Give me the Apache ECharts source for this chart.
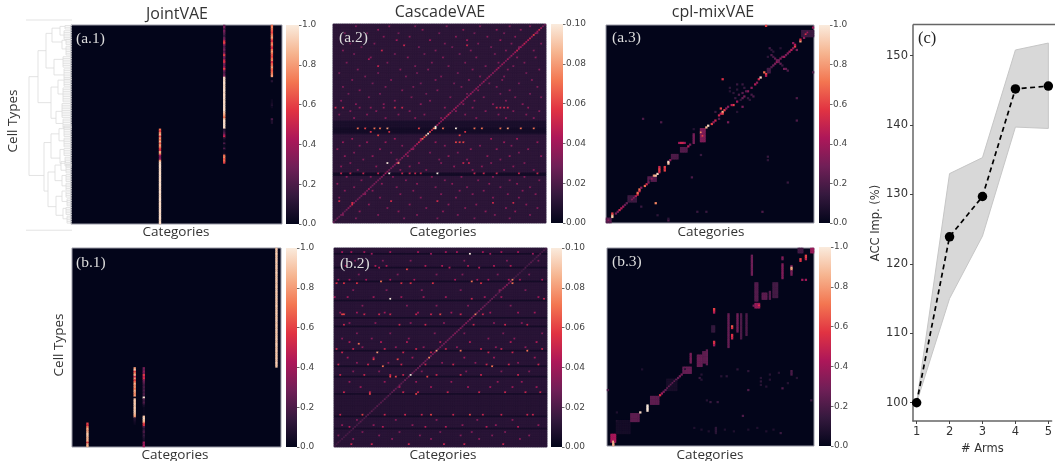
<!DOCTYPE html>
<html><head><meta charset="utf-8">
<style>html,body{margin:0;padding:0;background:#fff}#c{width:1055px;height:461px}</style>
<script src="https://cdn.jsdelivr.net/npm/echarts@6/dist/echarts.min.js"></script></head>
<body><div id="c"></div>
<script>
const ROCKET = ['#03051a','#35193e','#701f57','#ad1759','#e13342','#f37651','#f6b48f','#faebdd'];
const rowCount = 115;
const colorbarTicks = {unit: [0, 1, 0.2, 1], tenth: [0, 0.1, 0.02, 2]};

/* ---- column runs: [column, firstRow, values top to bottom] ---- */
const a1Runs = [
 [48,60,[.7,.6,.75,.85,.6,.8,.7,.85,.65,.8,.75,.6,.55,.85,.75,.4,.3,.35,.8,.95,.96,.95,.97,.95,.96,.95,.96,.97,.95,.96,.95,.97,.96,.95,.96,.95,.97,.95,.96,.95,.96,.97,.95,.96,.95,.96,.97,.95,.96,.95,.97,.96,.95,.96,.95]],
 [83,0,[.25,.3,.2,.3,.25,.2,.15,.25,.3,.55,.6,.35,.2,.25,.3,.2,.35,.6,.3,.25,.5,.55,.3,.25,.4,.6,.3,.2,.25,.3,.95,.96,.95,.97,.95,.96,.95,.97,.96,.95,.96,.95,.97,.95,.96,.95,.97,.96,.95,.96,.9,.85,.8,.7,.9,.96,.95,.97,.96,.95,.1,.15,.2,.35,.5,.1,.04,.02,.2,.03,.03,.2,.02,.02,.04,.7,.75,.65,.7,.6]],
 [109,0,[.7,.75,.7,.65,.6,.7,.75,.8,.65,.55,.7,.75,.6,.55,.7,.8,.7,.65,.6,.7,.75,.55,.65,.7,.8,.7,.65,.7,.75,.8]],
 [109,32,[.1]],[109,43,[.03,.03,.05,.08,.03]],[109,54,[.2,.08,.08]]
];
const b1Runs = [
 [8,101,[.6,.55,.7,.85,.8,.85,.9,.9,.85,.85,.85,.6,.85,.85]],
 [34,69,[.8,.9,.6,.75,.85,.5,.8,.6,.7,.85,.75,.8,.7,.85,.8,.75,.8,.02,.9,.92,.9,.93,.9,.92,.9,.93,.9,.85,.8,.1,.08,.05,.03]],
 [39,69,[.3,.25,.35,.3,.6,.45,.55,.3,.25,.2,.15,.2,.15,.2,.15,.2,.15,.98,.2,.15,.2,.1,.05,.02,.02,.02,.02,.02,.9,.95,.9,.85,.6,.55,.2,.1,.15,.2,.1,.15,.1,.08,.05,.4,.35,.4]],
 [112,0,[.9,.92,.9,.93,.9,.91,.92,.9,.93,.9,.92,.91,.9,.92,.93,.9,.91,.92,.9,.93,.9,.91,.92,.9,.93,.91,.9,.92,.93,.9,.91,.92,.9,.93,.9,.91,.92,.9,.93,.91,.9,.92,.93,.9,.91,.92,.9,.93,.9,.91,.92,.9,.93,.91,.9,.92,.93,.9,.91,.92,.9,.93,.9,.91,.92,.9,.93,.91,.9]]
];

/* ---- CascadeVAE panels: row bands [firstRow,lastRow,level], diagonal values, visible specks (estimated by eye) ---- */
const a2Bands = [[0,55,.012],[56,59,.007],[60,62,.005],[63,63,.007],[64,85,.012],[86,87,.005],[88,114,.012]];
const a2Diagonal = [.025,.025,.03,.025,.03,.03,.025,.03,.035,.04,.055,.03,.03,.03,.03,.03,.035,.03,.03,.04,.03,.03,.03,.03,.03,.03,.035,.03,.04,.035,.03,.03,.035,.03,.04,.03,.03,.035,.03,.04,.035,.03,.04,.03,.04,.04,.05,.045,.07,.06,.085,.1,.06,.05,.07,.1,.04,.04,.035,.04,.04,.04,.05,.04,.03,.04,.04,.035,.03,.04,.035,.03,.04,.03,.04,.035,.03,.04,.03,.035,.03,.04,.03,.035,.04,.03,.035,.03,.04,.04,.03,.04,.035,.03,.04,.03,.04,.035,.04,.05,.04,.04,.04,.05,.04,.045,.05,.04,.06,.04,.04,.05,.04,.03,.025];
const a2Specks = [
 [1,.032,[12,30,44,61,79,95,106]],[3,.036,[24,48,70,88,101]],[5,.03,[6,18,35,57,76,92,110]],[7,.035,[27,41,66,83,98]],
 [9,.04,[34,52,72,90,105]],[11,.032,[9,22,60,78,96,112]],[12,.05,[38,72]],[13,.03,[15,46,64,85,100]],[15,.05,[26]],[15,.033,[5,55,74,93,108]],
 [17,.03,[11,33,49,68,87]],[19,.034,[20,40,59,77,99,109]],[20,.042,[19]],[22,.032,[7,29,53,71,89,103]],[24,.048,[24]],[24,.032,[44,62,82,97]],
 [26,.034,[13,36,51,75,94,111]],[28,.03,[3,24,45,67,86,104]],[30,.032,[17,39,58,79,92]],[32,.034,[10,31,55,73,91,107]],[34,.03,[21,47,65,84,100]],
 [36,.032,[5,28,43,69,88,110]],[38,.034,[14,37,56,78,95]],[40,.03,[8,25,50,72,90,106]],[42,.032,[19,42,63,81,98,112]],[44,.034,[4,33,52,76,93]],
 [46,.035,[12,27,47,70,86,102]],[48,.05,[1,5,33,37,88,90,92,94]],[48,.036,[14,20,27,60,75,105]],[50,.034,[9,23,41,66,82,97,111]],[52,.034,[3,18,35,49,71,89,104]],
 [54,.035,[11,28,44,58,77,93,108]],[60,.07,[13,22,25,59,76,80,90,101,108]],[60,.06,[17,46]],[60,.08,[29,94]],[60,.1,[55,66]],
 [62,.055,[20,30,71]],[64,.06,[68,24]],[66,.04,[10,33,47,85,99]],[68,.06,[66,68,70]],[68,.038,[5,18,28,55,92,110]],
 [70,.034,[14,37,60,79,96]],[72,.036,[2,25,43,74,88,105]],[74,.032,[11,31,52,67,100]],[76,.036,[6,21,40,62,83,95,112]],[78,.033,[16,34,57,72,90]],
 [80,.1,[29]],[80,.08,[35]],[80,.05,[70,73]],[80,.033,[9,46,58,85,103]],[82,.036,[4,23,41,65,80,97]],[84,.034,[13,36,50,75,92,108]],
 [86,.05,[4,9,16,24,37,41,44,47,76,81,88,100,110]],[86,.1,[30,56]],[88,.035,[7,20,32,53,69,86,103]],[90,.033,[15,39,60,78,95,111]],
 [92,.036,[2,26,45,64,84,99]],[94,.033,[11,34,55,72,90,106]],[96,.035,[6,21,43,68,81,102]],[98,.034,[17,36,58,75,94,109]],[100,.034,[3,25,47,66,86,100]],
 [102,.052,[3,31,56]],[103,.052,[10,86,97]],[104,.036,[19,41,62,77,104]],[106,.034,[8,29,50,71,93,110]],[108,.036,[14,35,59,82,98]],[110,.033,[5,24,45,67,87,106]],[112,.032,[12,38,56,76,95]]
];
const b2Bands = [[0,2,.011],[3,3,.005],[4,10,.011],[11,11,.005],[12,18,.011],[19,19,.005],[20,29,.011],[30,30,.005],[31,39,.011],[40,40,.005],[41,44,.011],[45,45,.005],[46,58,.011],[59,59,.005],[60,67,.011],[68,68,.005],[69,73,.011],[74,74,.005],[75,83,.011],[84,84,.006],[85,96,.01],[97,97,.005],[98,103,.011],[104,104,.006],[105,114,.011]];
const b2Diagonal = [.016,.018,.02,.016,.02,.018,.02,.018,.02,.018,.02,.02,.018,.02,.024,.02,.02,.02,.024,.02,.024,.02,.02,.024,.02,.024,.02,.024,.02,.024,.02,.024,.028,.024,.02,.028,.024,.02,.028,.024,.03,.1,.028,.024,.028,.028,.03,.028,.03,.028,.03,.075,.028,.03,.035,.08,.028,.03,.028,.028,.03,.028,.03,.028,.03,.035,.028,.03,.035,.028,.03,.035,.028,.035,.03,.035,.075,.028,.028,.03,.028,.028,.024,.028,.024,.028,.024,.028,.02,.028,.024,.035,.03,.035,.028,.035,.075,.02,.018,.02,.018,.016,.018,.02,.018,.02,.024,.02,.018,.02,.024,.02,.018,.02,.018];
const b2Specks = [
 [2,.042,[4,9,16,30,45,60,66,80,90,99]],[3,.1,[73]],[3,.04,[20,52,84,107]],[7,.032,[11,26,41,70,93,110]],[10,.045,[6,22,28,49,58,72,86,95,104]],[12,.06,[39]],[11,.045,[24,62,78]],
 [15,.032,[13,34,55,69,88,105]],[18,.042,[2,8,17,30,43,65,77,83,94,100,112]],[19,.07,[25,74]],[20,.055,[1,5,12,36,41,53,79,96]],[20,.07,[96]],[24,.032,[10,28,47,68,89,103]],
 [28,.04,[0,7,21,36,48,60,81,90,110]],[29,.1,[30]],[29,.05,[74,113]],[33,.033,[15,39,55,72,95]],[37,.04,[3,12,27,45,63,84,99,108]],[38,.06,[4,5,57,76]],[38,.05,[16,24,30,44,52,68,80]],
 [43,.035,[8,22,41,59,86,101]],[44,.05,[5,35,49,75,92,104]],[49,.032,[12,30,54,70,91,112]],[52,.035,[4,20,40,62,83,97]],[54,.045,[8,25,39,57,73,95,109]],[55,.07,[13]],
 [57,.036,[15,33,48,66,87,103]],[58,.05,[1,10,27,44,60,79,90,112]],[60,.08,[23]],[59,.07,[68,104]],[60,.05,[4,37,52,83,96]],[63,.04,[7,21,42,70,86,108]],[64,.06,[21,34]],[66,.035,[12,29,58,76,99]],
 [67,.05,[2,18,36,49,64,82,94,110]],[68,.07,[26,85]],[71,.033,[10,24,47,71,90,105]],[73,.05,[3,16,30,37,55,68,79,99]],[74,.06,[30,33,50]],[77,.038,[8,27,44,63,88,101]],[80,.04,[14,35,52,72,84,96,109]],
 [83,.05,[5,19,37,45,61,78,92,103,111]],[84,.06,[19,44]],[96,.06,[15,18,52,73]],[96,.05,[3,27,38,47,64,80,90,104,107]],
 [99,.035,[12,33,55,77,96]],[102,.036,[4,21,42,69,87,110]],[103,.045,[8,26,49,60,82,99]],[106,.032,[15,35,57,74,92]],[108,.033,[2,24,46,68,85,105]],[110,.035,[10,31,52,78,100]],[113,.05,[1,9,20,40,59,70,91]]
];

/* ---- cpl-mixVAE panels: clusters [col0,col1,row0,row1,level], then single cells [col,row,value] ---- */
const a3Blocks = [[0,2,112,114,.22],[12,16,99,102,.16],[23,27,88,90,.22],[36,39,75,77,.2],[41,44,71,73,.22],[48,48,63,68,.3],[52,54,60,67,.32],[108,114,3,6,.16],[89,90,25,27,.18]];
const a3Cells = [[3,110,.85],[3,111,.9],[3,109,.6],[1,113,.35],[5,109,.3],[6,108,.3],[7,107,.5],[8,106,.45],[9,105,.4],[10,104,.25],[11,103,.25],[14,101,.35],[15,100,.35],[16,99,.45],[17,98,.55],[17,97,.7],[18,96,.5],[18,95,.7],[19,94,.35],[21,93,.7],[22,92,.5],[23,91,.3],[25,89,.35],[26,87,.8],[27,87,.9],[28,86,.95],[29,85,.5],[29,84,.6],[29,83,.6],[29,82,.5],[32,84,.6],[32,83,.55],[32,82,.6],[34,80,.9],[34,79,.95],[35,78,.35],[45,70,.45],[46,69,.3],[40,68,.4],[41,68,.5],[42,68,.5],[43,68,.4],[52,62,.75],[53,64,.6],[55,59,.85],[56,58,.95],[58,57,.6],[59,56,.35],[60,55,.5],[62,52,.5],[63,51,.45],[64,50,.85],[64,51,.6],[65,49,.6],[63,48,.6],[66,48,.35],[67,47,.35],[70,46,.6],[69,46,.45],
 [72,44,.4],[74,43,.3],[75,42,.25],[76,41,.3],[78,38,.35],[80,36,.35],[82,34,.45],[83,33,.35],[84,31,.5],[85,30,.95],[87,27,.7],[88,28,.6],[88,29,.45],
 [73,40,.2],[77,38,.22],[72,34,.15],[75,34,.15],[80,40,.18],[81,41,.2],[71,42,.15],[74,43,.12],[79,43,.12],[72,37,.12],[75,39,.22],[76,36,.14],[70,39,.12],[78,42,.14],[68,36,.12],[68,38,.1],
 [91,24,.22],[92,23,.28],[93,22,.3],[94,21,.38],[95,20,.3],[96,19,.32],[97,18,.28],[98,18,.4],[99,17,.28],[100,16,.32],[91,17,.2],[92,18,.18],[93,19,.25],[94,20,.28],[95,21,.25],[96,22,.25],[97,23,.15],[98,25,.3],[90,13,.18],[91,14,.12],[92,15,.12],[89,18,.12],[96,13,.1],[101,15,.38],[102,14,.45],[103,13,.35],[104,12,.6],[104,11,.45],[103,10,.35],[105,14,.3],[107,9,.8],[107,8,.55],[109,7,.35],[110,5,.55],[111,4,.4],[114,1,.4],[88,0,.6],
 [64,31,.55],[20,54,.2],[30,56,.2],[27,103,.75],[47,88,.2],[34,113,.2],[34,112,.12],[50,108,.15],[55,108,.15],[100,91,.15],[89,76,.15],[52,75,.15],[105,42,.2],[105,55,.2],[114,27,.2],[86,108,.2],[19,105,.15],[75,47,.3],[67,56,.3],[99,25,.25],[100,26,.2],[72,50,.1],[24,90,.1],[28,110,.12],[89,78,.12],[62,54,.22],[60,50,.15],[48,60,.1]];
const b3Blocks = [[2,4,108,112,.42],[3,3,112,114,.85],[5,12,100,107,.05],[13,17,96,100,.24],[24,28,86,90,.24],[42,46,69,72,.26],[46,46,61,66,.3],[50,52,62,68,.26],[53,54,60,66,.24],[55,55,59,67,.25],[58,59,45,48,.14],[67,67,38,57,.26],[72,72,38,48,.28],[74,74,38,52,.2],[77,77,38,50,.2],[80,80,4,15,.28],[82,83,20,30,.22],[82,84,32,34,.38],[86,88,26,29,.24],[90,90,25,29,.22],[92,94,20,28,.18],[97,97,9,17,.32],[102,102,10,15,.3],[106,108,0,2,.18],[113,114,0,2,.38],[33,38,76,82,.06]];
const b3Cells = [[18,95,.95],[22,91,1],[22,92,1],[22,93,1],[22,94,.98],[29,85,.55],[30,84,.4],[31,83,.3],[32,82,.25],[33,81,.25],[34,80,.25],[35,79,.25],[36,78,.25],[37,77,.25],[38,76,.25],[39,75,.25],[40,74,.3],[41,73,.3],[59,35,.6],[59,36,.55],[59,37,.45],[59,54,.55],[59,55,.55],[59,56,.4],[69,45,.65],[69,46,.55],[69,50,.55],[69,51,.55],[69,52,.5],[102,11,.85],[102,12,.8],[107,6,.6],[107,7,.55],[110,4,.6],[110,5,.6],[110,6,.5],[108,18,.4],[110,18,.4],[97,5,.35],[97,6,.3],[84,33,.55],[81,33,.3],
 [0,82,.2],[96,107,.15],[60,104,.12],[60,105,.12],[60,106,.12],[60,107,.1],[75,97,.2],[78,82,.2],[113,88,.15],[97,81,.2],[102,71,.2],[102,72,.18],[102,73,.2],[51,75,.15],[57,89,.15],[61,89,.15],[52,73,.1],[52,76,.1],[85,75,.1],[85,77,.12],[85,79,.1],[90,73,.1],[90,76,.1],[72,70,.12],[78,71,.12],[66,74,.12],[63,74,.1],[48,104,.08],[52,105,.08],[56,106,.08],[65,105,.08],[70,106,.08],[78,105,.08],[83,104,.08],[88,106,.08],[92,105,.08],[43,70,.1],[19,70,.08],[5,95,.08],[5,100,.08],[55,88,.1],[105,75,.1],[100,78,.1],[95,72,.1],[88,80,.1]];

/* ---- dendrogram: joins [height,rowA,heightA,rowB,heightB]; leaf combs [height,firstRow,lastRow] ---- */
const dendroJoins = [[43,30,34,87,28],[34,15,26,45,21],[26,5,20,25,18],[20,2,12,10,10],[12,1,7,6,8],[10,9,6,14,6],[18,20,9,29,8],[21,36,14,54,16],[14,32,8,40,9],[16,50,10,57,9],[28,68,21,96,24],[21,63,13,77,12],[13,60,8,67,8],[12,72,8,80,7],[24,85,17,105,16],[17,81,11,90,10],[16,99,10,110,9],[11,79,6,84,6],[10,87,6,93,6],[10,96,6,102,5],[9,106,6,112,5]];
const dendroCombs = [[7,0,2],[8,3,8],[6,8,11],[6,12,17],[9,18,24],[8,25,31],[8,31,35],[9,36,44],[10,45,53],[9,54,59],[8,58,64],[8,65,70],[8,71,75],[7,76,81],[6,80,85],[6,86,90],[6,91,95],[6,96,99],[5,100,104],[6,105,109],[5,110,114]];
const dendroEdges = [[-2.7,46,0],[118.6,46,0]];

/* ---- panel (c) ---- */
const arms = [1,2,3,4,5];
const accMean = [100,123.9,129.7,145.2,145.6];
const accLow = [100,115,124,139.7,139.5];
const accHigh = [100,133,135.3,150.8,151.8];

const panels = [
 {box:[71,25,211,199], bar:[286,25,13,199], max:1, ticks:colorbarTicks.unit, runs:a1Runs},
 {box:[333,24,213,199], bar:[551,24,12,199], max:.1, ticks:colorbarTicks.tenth, bands:a2Bands, diag:a2Diagonal, specks:a2Specks},
 {box:[606,25,208,198], bar:[819,25,11,198], max:1, ticks:colorbarTicks.unit, blocks:a3Blocks, cells:a3Cells},
 {box:[72,248,209,199], bar:[286,248,11,199], max:1, ticks:colorbarTicks.unit, runs:b1Runs},
 {box:[334,248,213,199], bar:[551,248,11,199], max:.1, ticks:colorbarTicks.tenth, bands:b2Bands, diag:b2Diagonal, specks:b2Specks},
 {box:[607,248,207,198], bar:[819,247,12,199], max:1, ticks:colorbarTicks.unit, blocks:b3Blocks, cells:b3Cells}
];
function cellsFor(p){
  const m = new Map(), put=(c,r,v)=>{ if(c>=0&&c<rowCount&&r>=0&&r<rowCount) m.set(c*1000+r,v); };
  (p.bands||[]).forEach(([a,b,v])=>{ for(let r=a;r<=b;r++) for(let c=0;c<rowCount;c++) put(c,r,v); });
  (p.specks||[]).forEach(([r,v,cs])=>cs.forEach(c=>put(c,r,v)));
  (p.diag||[]).forEach((v,c)=>put(c,114-c,v));
  (p.runs||[]).forEach(([c,r0,vs])=>vs.forEach((v,i)=>put(c,r0+i,v)));
  (p.blocks||[]).forEach(([c0,c1,r0,r1,v])=>{ for(let c=c0;c<=c1;c++) for(let r=r0;r<=r1;r++) put(c,r,v); });
  (p.cells||[]).forEach(([c,r,v])=>put(c,r,v));
  return [...m.entries()].map(([k,v])=>[Math.floor(k/1000),k%1000,v]);
}
const indexLabels = Array.from({length:rowCount},(_,i)=>String(i));
const gridDefs=[], xAxes=[], yAxes=[], seriesList=[], visualMaps=[];
const tickFont = {fontFamily:'DejaVu Sans', fontSize:9, color:'#444'};
panels.forEach((p,i)=>{
  gridDefs.push({left:p.box[0],top:p.box[1],width:p.box[2],height:p.box[3],show:true,backgroundColor:ROCKET[0],borderColor:'#9a9aa6',borderWidth:1,z:1});
  xAxes.push({gridIndex:i,type:'category',data:indexLabels,axisLine:{show:false},axisTick:{show:false},axisLabel:{show:false},splitLine:{show:false},z:1});
  yAxes.push({gridIndex:i,type:'category',data:indexLabels,inverse:true,axisLine:{show:false},axisTick:{show:false},axisLabel:{show:false},splitLine:{show:false}});
  seriesList.push({type:'heatmap',xAxisIndex:i,yAxisIndex:i,data:cellsFor(p),silent:true,progressive:0,animation:false,emphasis:{disabled:true}});
  visualMaps.push({show:false,seriesIndex:seriesList.length-1,min:0,max:p.max,inRange:{color:ROCKET}});
});
panels.forEach((p,i)=>{
  const gi=gridDefs.length; const [lo,hi,step,dec]=p.ticks;
  gridDefs.push({left:p.bar[0],top:p.bar[1],width:p.bar[2],height:p.bar[3]});
  xAxes.push({gridIndex:gi,type:'category',data:['scale'],show:false});
  yAxes.push({gridIndex:gi,type:'value',position:'right',min:lo,max:hi,interval:step,splitLine:{show:false},axisLine:{show:false},
    axisTick:{show:true,length:2.5,lineStyle:{color:'#444',width:.8}},axisLabel:Object.assign({margin:3,formatter:v=>v.toFixed(dec)},tickFont)});
  seriesList.push({type:'bar',xAxisIndex:gi,yAxisIndex:gi,data:[hi],barWidth:'100%',silent:true,animation:false,
    itemStyle:{color:new echarts.graphic.LinearGradient(0,1,0,0,ROCKET.map((c,k)=>({offset:k/(ROCKET.length-1),color:c})))}});
});
/* dendrogram */
const dg=gridDefs.length;
gridDefs.push({left:25,top:20,width:47,height:213});
xAxes.push({gridIndex:dg,type:'value',min:0,max:47,inverse:true,show:false});
yAxes.push({gridIndex:dg,type:'value',min:-2.7,max:120.2,inverse:true,show:false});
const dPath=[]; const brk=()=>dPath.push(['-','-']);
dendroJoins.forEach(([h,ra,ha,rb,hb])=>{ dPath.push([ha,ra],[h,ra],[h,rb],[hb,rb]); brk(); });
dendroCombs.forEach(([h,r0,r1])=>{ dPath.push([h,r0+.5],[h,r1+.5]); brk(); for(let r=r0;r<=r1;r++){ dPath.push([h,r+.5],[0,r+.5]); brk(); } });
dendroEdges.forEach(([r,a,b])=>{ dPath.push([a,r],[b,r]); brk(); });
seriesList.push({type:'line',xAxisIndex:dg,yAxisIndex:dg,data:dPath,showSymbol:false,connectNulls:false,silent:true,animation:false,lineStyle:{color:'#dcdcdc',width:.8},clip:false});
/* panel c */
const cg=gridDefs.length;
gridDefs.push({left:913,top:25,width:142,height:396,show:false});
xAxes.push({gridIndex:cg,type:'value',min:.89,max:5.1,name:'# Arms',nameLocation:'middle',nameGap:21,nameTextStyle:{fontFamily:'DejaVu Sans',fontSize:11.5,color:'#333'},
  splitLine:{show:false},axisLine:{onZero:false,lineStyle:{color:'#666',width:1.5}},axisTick:{length:3,lineStyle:{color:'#444'},customValues:arms},
  axisLabel:{customValues:arms,fontFamily:'DejaVu Sans',fontSize:11.5,color:'#333',margin:5,showMinLabel:true,showMaxLabel:true,formatter:v=>String(v)}});
yAxes.push({gridIndex:cg,type:'value',min:97.37,max:154.4,name:'ACC Imp. (%)',nameLocation:'middle',nameGap:29,nameRotate:90,nameTextStyle:{fontFamily:'DejaVu Sans',fontSize:11.5,color:'#333'},
  splitLine:{show:false},axisLine:{lineStyle:{color:'#666',width:1.5}},axisTick:{length:3,lineStyle:{color:'#444'},customValues:[100,110,120,130,140,150]},
  axisLabel:{customValues:[100,110,120,130,140,150],fontFamily:'DejaVu Sans',fontSize:11.5,color:'#333',margin:5}});
seriesList.push({type:'custom',xAxisIndex:cg,yAxisIndex:cg,silent:true,animation:false,data:arms.map((a,i)=>[a,accLow[i],accHigh[i]]),clip:false,
  encode:{x:0,y:[1,2]},
  renderItem:(params,api)=>{ if(params.dataIndex!==0) return null;
    const pts=[...arms.map((a,i)=>api.coord([a,accHigh[i]])),...arms.map((a,i)=>api.coord([a,accLow[i]])).reverse()];
    return {type:'polygon',shape:{points:pts},style:{fill:'#d8d8d8',stroke:'#c6c6c6',lineWidth:1}}; }});
seriesList.push({type:'line',xAxisIndex:cg,yAxisIndex:cg,data:arms.map((a,i)=>[a,accMean[i]]),symbol:'circle',symbolSize:9.5,silent:true,animation:false,clip:false,
  lineStyle:{color:'#000',width:1.7,type:[5,3.5]},itemStyle:{color:'#000'}});
const sansTitle='Open Sans', serif='Liberation Serif';
const T=(text,x,y,size,fill,font,rot)=>({type:'text',x,y,rotation:rot||0,z:50,silent:true,style:{text,fill,font:size+'px "'+font+'"',textAlign:'center',textVerticalAlign:'middle'}});
const L=(text,x,y,size,fill)=>({type:'text',x,y,z:50,silent:true,style:{text,fill,font:size+'px "'+serif+'"',textAlign:'left',textVerticalAlign:'middle'}});
const textGraphics=[
 T('JointVAE',177,14,16,'#333',sansTitle),T('CascadeVAE',440,12,16,'#333',sansTitle),T('cpl-mixVAE',713,12,16,'#333',sansTitle),
 T('Categories',176,232,13.5,'#333',sansTitle),T('Categories',443,232,13.5,'#333',sansTitle),T('Categories',711,232,13.5,'#333',sansTitle),
 T('Categories',175,455,13.5,'#333',sansTitle),T('Categories',443,455,13.5,'#333',sansTitle),T('Categories',710,455,13.5,'#333',sansTitle),
 T('Cell Types',13,121,13.5,'#333',sansTitle,Math.PI/2),T('Cell Types',59,345,13.5,'#333',sansTitle,Math.PI/2),
 L('(a.1)',76,39,15.5,'#ddd'),L('(a.2)',339,38,15.5,'#ddd'),L('(a.3)',612,38,15.5,'#ddd'),
 L('(b.1)',76,263,15.5,'#ddd'),L('(b.2)',340,264,15.5,'#ddd'),L('(b.3)',612,262,15.5,'#ddd'),L('(c)',918,39,16.5,'#222'),
 {type:'rect',shape:{x:913,y:24.5,width:142,height:0},style:{stroke:'#666',lineWidth:1.5},silent:true,z:40}
];
const chart=echarts.init(document.getElementById('c'),null,{renderer:'canvas'});
chart.setOption({animation:false,backgroundColor:'#fff',grid:gridDefs,xAxis:xAxes,yAxis:yAxes,visualMap:visualMaps,series:seriesList,graphic:textGraphics});
</script></body></html>
